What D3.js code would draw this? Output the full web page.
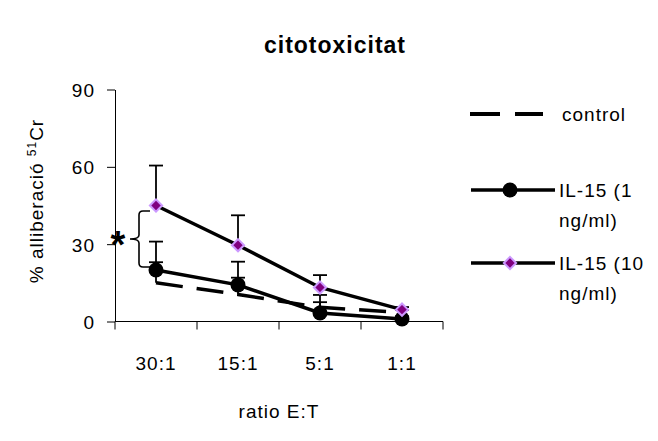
<!DOCTYPE html>
<html>
<head>
<meta charset="utf-8">
<script src="https://cdn.jsdelivr.net/npm/d3@7"></script>
<style>
  body { margin: 0; background: #fff; }
  svg { display: block; font-family: "Liberation Sans", Arial, sans-serif; }
  .axis path, .axis line { stroke: #000; }
</style>
</head>
<body>
<svg width="658" height="441"></svg>
<script>
const categories = ["30:1", "15:1", "5:1", "1:1"];
const yTicks = [0, 30, 60, 90];
const control = [15, 10.5, 5.5, 3.5];
const controlErr = [8, 6.5, 2, 1];
const il15Low = [20, 14.2, 3.3, 1];
const il15LowErr = [11, 9, 7, 1];
const il15High = [45, 29.6, 13.2, 4.6];
const il15HighErr = [15.5, 11.6, 4.8, 1];

const series = [
  {name: "control", label: ["control"], values: control, err: controlErr, dash: "27,14", marker: null},
  {name: "il1", label: ["IL-15 (1", "ng/ml)"], values: il15Low, err: il15LowErr, dash: null, marker: "circle"},
  {name: "il10", label: ["IL-15 (10", "ng/ml)"], values: il15High, err: il15HighErr, dash: null, marker: "diamond"}
];

let svg = d3.select("svg");
let plotLeft = 115, plotRight = 443, plotTop = 89.5, plotBottom = 321.5;

let x = d3.scaleBand().domain(categories).range([plotLeft, plotRight]);
let y = d3.scaleLinear().domain([0, 90]).range([plotBottom, plotTop]);
let cx = c => x(c) + x.bandwidth() / 2;

// title
svg.append("text").attr("x", 335).attr("y", 53).attr("text-anchor", "middle")
  .style("font-size", "23px").style("font-weight", "bold").style("letter-spacing", "1px")
  .text("citotoxicitat");

// y axis
svg.append("g").attr("class", "axis")
  .attr("transform", "translate(" + plotLeft + ",0)")
  .call(d3.axisLeft(y).tickValues(yTicks).tickSize(8).tickSizeOuter(0).tickPadding(12))
  .call(g => g.selectAll("text").style("font-size", "19px").style("letter-spacing", "1px")
    .attr("font-family", null).attr("dy", "0.36em"));

// x axis: line + ticks at band edges
let gx = svg.append("g").attr("class", "axis");
gx.append("line").attr("x1", plotLeft).attr("x2", plotRight).attr("y1", plotBottom).attr("y2", plotBottom).attr("stroke", "#000");
gx.selectAll(".tk").data(categories.map(c => x(c)).concat([plotRight]))
  .enter().append("line")
  .attr("x1", d => d).attr("x2", d => d).attr("y1", plotBottom).attr("y2", plotBottom + 8).attr("stroke", "#000");
gx.selectAll(".lbl").data(categories).enter().append("text")
  .attr("x", d => cx(d)).attr("y", 370).attr("text-anchor", "middle")
  .style("font-size", "19px").style("letter-spacing", "1px").text(d => d);

svg.append("text").attr("x", 279).attr("y", 418).attr("text-anchor", "middle")
  .style("font-size", "19px").style("letter-spacing", "1px").text("ratio E:T");

// y title
let yt = svg.append("text").attr("transform", "translate(43,201) rotate(-90)")
  .attr("text-anchor", "middle").style("font-size", "19px").style("letter-spacing", "1px");
yt.append("tspan").text("% alliberació ");
yt.append("tspan").attr("dy", -7).style("font-size", "12px").text("51");
yt.append("tspan").attr("dy", 7).text("Cr");

// error bars
series.forEach(s => {
  let g = svg.append("g");
  categories.forEach((c, i) => {
    let v = s.values[i], t = v + s.err[i];
    g.append("line").attr("x1", cx(c)).attr("x2", cx(c)).attr("y1", y(v)).attr("y2", y(t))
      .attr("stroke", "#000").attr("stroke-width", 1.8);
    g.append("line").attr("x1", cx(c) - 7).attr("x2", cx(c) + 7).attr("y1", y(t)).attr("y2", y(t))
      .attr("stroke", "#000").attr("stroke-width", 1.8);
  });
});

// lines
let line = d3.line().x((d, i) => cx(categories[i])).y(d => y(d));
series.forEach(s => {
  svg.append("path").datum(s.values).attr("d", line)
    .attr("fill", "none").attr("stroke", "#000").attr("stroke-width", 3.5)
    .attr("stroke-dasharray", s.dash);
});

function drawMarker(g, type, px, py) {
  if (type === "circle") {
    g.append("circle").attr("cx", px).attr("cy", py).attr("r", 7.5).attr("fill", "#000");
  } else if (type === "diamond") {
    g.append("path").attr("d", d3.symbol(d3.symbolDiamond2, 95)())
      .attr("transform", "translate(" + px + "," + py + ")")
      .attr("fill", "#800080").attr("stroke", "#cc99ff").attr("stroke-width", 2);
  }
}

series.forEach(s => {
  if (!s.marker) return;
  let g = svg.append("g");
  categories.forEach((c, i) => drawMarker(g, s.marker, cx(c), y(s.values[i])));
});

// significance bracket
svg.append("path")
  .attr("d", "M150,211 L143,211 Q139,211 139,215 L139,235 Q139,239 130,239 Q139,239 139,243 L139,263 Q139,267 143,267 L150,267")
  .attr("fill", "none").attr("stroke", "#000").attr("stroke-width", 1.6);
svg.append("text").attr("x", 118).attr("y", 258).attr("text-anchor", "middle")
  .style("font-size", "38px").style("font-weight", "bold").text("*");

// legend
let legY = [114, 190, 263];
series.forEach((s, i) => {
  let g = svg.append("g");
  let ly = legY[i];
  if (s.dash) {
    g.append("line").attr("x1", 470).attr("x2", 543).attr("y1", ly).attr("y2", ly)
      .attr("stroke", "#000").attr("stroke-width", 4).attr("stroke-dasharray", "30,15");
  } else {
    g.append("line").attr("x1", 471).attr("x2", 555).attr("y1", ly).attr("y2", ly)
      .attr("stroke", "#000").attr("stroke-width", 3.5);
    drawMarker(g, s.marker, 510, ly);
  }
  let tx = s.dash ? 562 : 559;
  s.label.forEach((t, j) => {
    g.append("text").attr("x", tx).attr("y", ly + 7 + j * 30)
      .style("font-size", "19px").style("letter-spacing", "1px").text(t);
  });
});
</script>
</body>
</html>
